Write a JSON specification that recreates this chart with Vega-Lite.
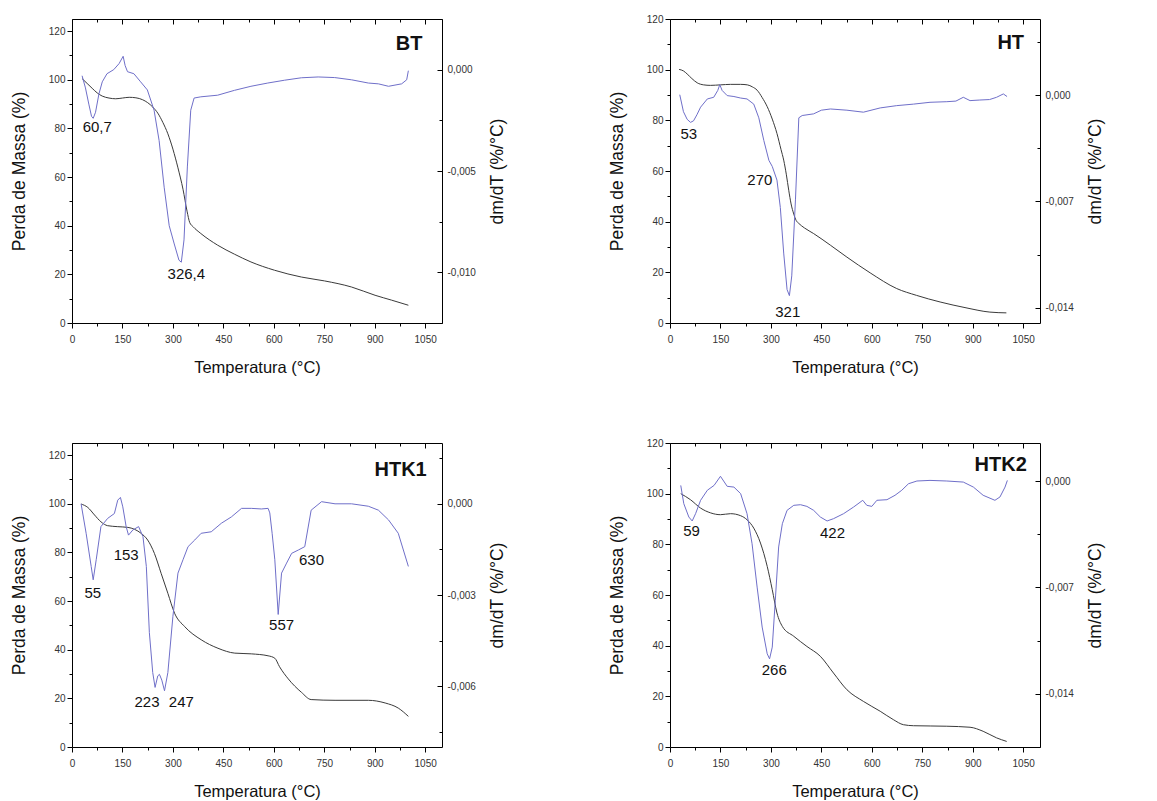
{
  "$schema": "https://vega.github.io/schema/vega-lite/v6.json",
  "padding": {"left": 10, "top": 14, "right": 5, "bottom": 5},
  "background": "white",
  "config": {
    "font": "Liberation Sans",
    "view": {"stroke": null},
    "axis": {
      "domainColor": "#000", "tickColor": "#000", "grid": false,
      "labelFont": "Liberation Sans", "labelFontSize": 10, "labelColor": "#333",
      "labelFlush": false, "labelOverlap": false,
      "titleFont": "Liberation Sans", "titleFontWeight": "normal", "titleColor": "#111"
    },
    "text": {"font": "Liberation Sans"}
  },
  "datasets": {
    "massa": [
      {"a":"BT","T":30,"M":100.5},{"a":"BT","T":45,"M":98.5},{"a":"BT","T":60,"M":96.5},{"a":"BT","T":75,"M":94.6},{"a":"BT","T":90,"M":93.3},{"a":"BT","T":110,"M":92.5},{"a":"BT","T":130,"M":92.2},{"a":"BT","T":150,"M":92.5},{"a":"BT","T":170,"M":92.8},{"a":"BT","T":190,"M":92.6},{"a":"BT","T":210,"M":91.8},{"a":"BT","T":225,"M":90.6},{"a":"BT","T":240,"M":88.8},{"a":"BT","T":255,"M":86.3},{"a":"BT","T":270,"M":82.5},{"a":"BT","T":285,"M":77.8},{"a":"BT","T":300,"M":71.5},{"a":"BT","T":315,"M":63.8},{"a":"BT","T":330,"M":55},{"a":"BT","T":342,"M":46},{"a":"BT","T":350,"M":41.3},{"a":"BT","T":360,"M":39.6},{"a":"BT","T":383,"M":36.8},{"a":"BT","T":433,"M":32},{"a":"BT","T":483,"M":28.3},{"a":"BT","T":532,"M":25.1},{"a":"BT","T":602,"M":21.7},{"a":"BT","T":682,"M":18.9},{"a":"BT","T":751,"M":17.3},{"a":"BT","T":831,"M":14.8},{"a":"BT","T":901,"M":11.4},{"a":"BT","T":950,"M":9.4},{"a":"BT","T":1000,"M":7.3},
      {"a":"HT","T":27,"M":100.1},{"a":"HT","T":40,"M":99.5},{"a":"HT","T":51,"M":98.3},{"a":"HT","T":65,"M":96.5},{"a":"HT","T":81,"M":94.8},{"a":"HT","T":100,"M":94},{"a":"HT","T":120,"M":93.8},{"a":"HT","T":150,"M":94},{"a":"HT","T":180,"M":94.2},{"a":"HT","T":210,"M":94.2},{"a":"HT","T":230,"M":94},{"a":"HT","T":245,"M":93.2},{"a":"HT","T":259,"M":91.9},{"a":"HT","T":274,"M":89},{"a":"HT","T":289,"M":85.4},{"a":"HT","T":304,"M":80.5},{"a":"HT","T":318,"M":74.8},{"a":"HT","T":330,"M":68.5},{"a":"HT","T":338,"M":64.3},{"a":"HT","T":346,"M":58.5},{"a":"HT","T":353,"M":52.4},{"a":"HT","T":360,"M":47},{"a":"HT","T":368,"M":43},{"a":"HT","T":375,"M":40.5},{"a":"HT","T":383,"M":39.3},{"a":"HT","T":400,"M":37.5},{"a":"HT","T":427,"M":35.3},{"a":"HT","T":477,"M":30.7},{"a":"HT","T":526,"M":26},{"a":"HT","T":595,"M":19.8},{"a":"HT","T":674,"M":13.6},{"a":"HT","T":733,"M":10.9},{"a":"HT","T":803,"M":8.3},{"a":"HT","T":880,"M":6},{"a":"HT","T":951,"M":4.3},{"a":"HT","T":1000,"M":4},
      {"a":"HTK1","T":27,"M":99.9},{"a":"HTK1","T":47,"M":98.5},{"a":"HTK1","T":67,"M":95.4},{"a":"HTK1","T":86,"M":92.6},{"a":"HTK1","T":106,"M":91},{"a":"HTK1","T":136,"M":90.6},{"a":"HTK1","T":166,"M":90.3},{"a":"HTK1","T":186,"M":89.5},{"a":"HTK1","T":206,"M":87.8},{"a":"HTK1","T":225,"M":85.1},{"a":"HTK1","T":245,"M":79.6},{"a":"HTK1","T":265,"M":71.4},{"a":"HTK1","T":285,"M":63.2},{"a":"HTK1","T":305,"M":55},{"a":"HTK1","T":335,"M":49.5},{"a":"HTK1","T":384,"M":44.1},{"a":"HTK1","T":434,"M":40.6},{"a":"HTK1","T":484,"M":38.6},{"a":"HTK1","T":533,"M":38.3},{"a":"HTK1","T":583,"M":37.5},{"a":"HTK1","T":603,"M":36.5},{"a":"HTK1","T":617,"M":33},{"a":"HTK1","T":643,"M":28},{"a":"HTK1","T":682,"M":22.5},{"a":"HTK1","T":711,"M":19.5},{"a":"HTK1","T":782,"M":19.2},{"a":"HTK1","T":881,"M":19.2},{"a":"HTK1","T":931,"M":18.1},{"a":"HTK1","T":970,"M":16},{"a":"HTK1","T":1000,"M":12.6},
      {"a":"HTK2","T":32,"M":100},{"a":"HTK2","T":61,"M":97.6},{"a":"HTK2","T":91,"M":94.3},{"a":"HTK2","T":121,"M":92.4},{"a":"HTK2","T":150,"M":91.7},{"a":"HTK2","T":180,"M":92.1},{"a":"HTK2","T":210,"M":91.3},{"a":"HTK2","T":229,"M":89.7},{"a":"HTK2","T":249,"M":86.4},{"a":"HTK2","T":269,"M":80.5},{"a":"HTK2","T":289,"M":71.3},{"a":"HTK2","T":304,"M":62.1},{"a":"HTK2","T":318,"M":52.9},{"a":"HTK2","T":334,"M":47.6},{"a":"HTK2","T":368,"M":43.7},{"a":"HTK2","T":407,"M":39.7},{"a":"HTK2","T":447,"M":35.8},{"a":"HTK2","T":486,"M":29.2},{"a":"HTK2","T":526,"M":22.6},{"a":"HTK2","T":575,"M":18},{"a":"HTK2","T":625,"M":14.1},{"a":"HTK2","T":664,"M":10.8},{"a":"HTK2","T":694,"M":8.8},{"a":"HTK2","T":724,"M":8.4},{"a":"HTK2","T":823,"M":8.2},{"a":"HTK2","T":892,"M":7.8},{"a":"HTK2","T":931,"M":6.2},{"a":"HTK2","T":971,"M":3.6},{"a":"HTK2","T":1001,"M":2.2}
    ],
    "dtg": [
      {"a":"BT","T":30,"v":-0.0003},{"a":"BT","T":40,"v":-0.0009},{"a":"BT","T":50,"v":-0.0017},{"a":"BT","T":58,"v":-0.0023},{"a":"BT","T":63,"v":-0.0024},{"a":"BT","T":70,"v":-0.0021},{"a":"BT","T":80,"v":-0.0012},{"a":"BT","T":90,"v":-0.0006},{"a":"BT","T":104,"v":-0.0002},{"a":"BT","T":124,"v":0.0},{"a":"BT","T":140,"v":0.0003},{"a":"BT","T":152,"v":0.00066},{"a":"BT","T":158,"v":0.0002},{"a":"BT","T":165,"v":-0.0001},{"a":"BT","T":184,"v":-0.0002},{"a":"BT","T":204,"v":-0.0006},{"a":"BT","T":224,"v":-0.001},{"a":"BT","T":244,"v":-0.002},{"a":"BT","T":259,"v":-0.0035},{"a":"BT","T":274,"v":-0.0058},{"a":"BT","T":289,"v":-0.0077},{"a":"BT","T":304,"v":-0.0086},{"a":"BT","T":318,"v":-0.0094},{"a":"BT","T":325,"v":-0.0095},{"a":"BT","T":333,"v":-0.0084},{"a":"BT","T":343,"v":-0.0048},{"a":"BT","T":353,"v":-0.002},{"a":"BT","T":363,"v":-0.0014},{"a":"BT","T":383,"v":-0.00134},{"a":"BT","T":433,"v":-0.00126},{"a":"BT","T":483,"v":-0.00102},{"a":"BT","T":532,"v":-0.00082},{"a":"BT","T":582,"v":-0.00066},{"a":"BT","T":632,"v":-0.00052},{"a":"BT","T":682,"v":-0.0004},{"a":"BT","T":732,"v":-0.00036},{"a":"BT","T":781,"v":-0.00039},{"a":"BT","T":831,"v":-0.0005},{"a":"BT","T":881,"v":-0.00066},{"a":"BT","T":911,"v":-0.0007},{"a":"BT","T":941,"v":-0.00082},{"a":"BT","T":980,"v":-0.0007},{"a":"BT","T":995,"v":-0.0005},{"a":"BT","T":1000,"v":-0.00005},
      {"a":"HT","T":29,"v":0.00002},{"a":"HT","T":40,"v":-0.0011},{"a":"HT","T":51,"v":-0.0016},{"a":"HT","T":61,"v":-0.0018},{"a":"HT","T":70,"v":-0.0017},{"a":"HT","T":80,"v":-0.0013},{"a":"HT","T":91,"v":-0.0008},{"a":"HT","T":111,"v":-0.00026},{"a":"HT","T":130,"v":-0.00015},{"a":"HT","T":142,"v":0.0003},{"a":"HT","T":148,"v":0.00068},{"a":"HT","T":155,"v":0.0003},{"a":"HT","T":170,"v":-0.00004},{"a":"HT","T":190,"v":-0.0001},{"a":"HT","T":210,"v":-0.0002},{"a":"HT","T":229,"v":-0.00026},{"a":"HT","T":249,"v":-0.0006},{"a":"HT","T":264,"v":-0.0015},{"a":"HT","T":279,"v":-0.003},{"a":"HT","T":294,"v":-0.0043},{"a":"HT","T":304,"v":-0.0047},{"a":"HT","T":318,"v":-0.0056},{"a":"HT","T":328,"v":-0.0074},{"a":"HT","T":338,"v":-0.0104},{"a":"HT","T":348,"v":-0.0128},{"a":"HT","T":355,"v":-0.0132},{"a":"HT","T":362,"v":-0.0119},{"a":"HT","T":373,"v":-0.0069},{"a":"HT","T":383,"v":-0.0015},{"a":"HT","T":393,"v":-0.00135},{"a":"HT","T":427,"v":-0.00124},{"a":"HT","T":450,"v":-0.001},{"a":"HT","T":477,"v":-0.00092},{"a":"HT","T":526,"v":-0.001},{"a":"HT","T":575,"v":-0.00113},{"a":"HT","T":625,"v":-0.00085},{"a":"HT","T":674,"v":-0.0007},{"a":"HT","T":724,"v":-0.0006},{"a":"HT","T":773,"v":-0.00048},{"a":"HT","T":823,"v":-0.00044},{"a":"HT","T":850,"v":-0.0004},{"a":"HT","T":872,"v":-0.00015},{"a":"HT","T":892,"v":-0.00037},{"a":"HT","T":921,"v":-0.00033},{"a":"HT","T":950,"v":-0.0003},{"a":"HT","T":971,"v":-0.00015},{"a":"HT","T":991,"v":0.00007},{"a":"HT","T":1002,"v":-0.0001},
      {"a":"HTK1","T":27,"v":0.0},{"a":"HTK1","T":42,"v":-0.00097},{"a":"HTK1","T":57,"v":-0.00206},{"a":"HTK1","T":63,"v":-0.0025},{"a":"HTK1","T":72,"v":-0.00184},{"a":"HTK1","T":86,"v":-0.00075},{"a":"HTK1","T":106,"v":-0.00048},{"a":"HTK1","T":126,"v":-0.00032},{"a":"HTK1","T":136,"v":0.00012},{"a":"HTK1","T":144,"v":0.00021},{"a":"HTK1","T":151,"v":-0.0001},{"a":"HTK1","T":161,"v":-0.00075},{"a":"HTK1","T":168,"v":-0.00103},{"a":"HTK1","T":181,"v":-0.00086},{"a":"HTK1","T":198,"v":-0.00075},{"a":"HTK1","T":211,"v":-0.00108},{"a":"HTK1","T":221,"v":-0.00206},{"a":"HTK1","T":230,"v":-0.00424},{"a":"HTK1","T":240,"v":-0.00555},{"a":"HTK1","T":247,"v":-0.00604},{"a":"HTK1","T":255,"v":-0.00566},{"a":"HTK1","T":260,"v":-0.00561},{"a":"HTK1","T":267,"v":-0.0058},{"a":"HTK1","T":275,"v":-0.00615},{"a":"HTK1","T":285,"v":-0.00555},{"a":"HTK1","T":300,"v":-0.0037},{"a":"HTK1","T":315,"v":-0.00228},{"a":"HTK1","T":330,"v":-0.00184},{"a":"HTK1","T":345,"v":-0.00141},{"a":"HTK1","T":365,"v":-0.00119},{"a":"HTK1","T":384,"v":-0.00097},{"a":"HTK1","T":414,"v":-0.00092},{"a":"HTK1","T":444,"v":-0.00064},{"a":"HTK1","T":474,"v":-0.00043},{"a":"HTK1","T":504,"v":-0.00015},{"a":"HTK1","T":533,"v":-0.00015},{"a":"HTK1","T":563,"v":-0.00017},{"a":"HTK1","T":583,"v":-0.00015},{"a":"HTK1","T":588,"v":-0.0003},{"a":"HTK1","T":595,"v":-0.00097},{"a":"HTK1","T":603,"v":-0.00184},{"a":"HTK1","T":613,"v":-0.00364},{"a":"HTK1","T":623,"v":-0.00228},{"a":"HTK1","T":638,"v":-0.00195},{"a":"HTK1","T":653,"v":-0.00163},{"a":"HTK1","T":673,"v":-0.00152},{"a":"HTK1","T":692,"v":-0.00141},{"a":"HTK1","T":711,"v":-0.00021},{"a":"HTK1","T":742,"v":0.00007},{"a":"HTK1","T":782,"v":0.0},{"a":"HTK1","T":831,"v":0.0},{"a":"HTK1","T":881,"v":-0.00008},{"a":"HTK1","T":911,"v":-0.00021},{"a":"HTK1","T":941,"v":-0.00053},{"a":"HTK1","T":970,"v":-0.00097},{"a":"HTK1","T":1000,"v":-0.00206},
      {"a":"HTK2","T":32,"v":-0.00029},{"a":"HTK2","T":41,"v":-0.00149},{"a":"HTK2","T":56,"v":-0.00237},{"a":"HTK2","T":66,"v":-0.00263},{"a":"HTK2","T":76,"v":-0.00215},{"a":"HTK2","T":91,"v":-0.00127},{"a":"HTK2","T":111,"v":-0.00061},{"a":"HTK2","T":131,"v":-0.00029},{"a":"HTK2","T":150,"v":0.00031},{"a":"HTK2","T":170,"v":-0.00035},{"a":"HTK2","T":190,"v":-0.0004},{"a":"HTK2","T":210,"v":-0.00083},{"a":"HTK2","T":229,"v":-0.00215},{"a":"HTK2","T":244,"v":-0.00413},{"a":"HTK2","T":259,"v":-0.00698},{"a":"HTK2","T":274,"v":-0.00961},{"a":"HTK2","T":289,"v":-0.01137},{"a":"HTK2","T":296,"v":-0.0117},{"a":"HTK2","T":304,"v":-0.01093},{"a":"HTK2","T":313,"v":-0.00786},{"a":"HTK2","T":323,"v":-0.00434},{"a":"HTK2","T":334,"v":-0.00281},{"a":"HTK2","T":348,"v":-0.00193},{"a":"HTK2","T":368,"v":-0.0016},{"a":"HTK2","T":388,"v":-0.00156},{"a":"HTK2","T":407,"v":-0.00167},{"a":"HTK2","T":427,"v":-0.00193},{"a":"HTK2","T":447,"v":-0.00237},{"a":"HTK2","T":467,"v":-0.00263},{"a":"HTK2","T":486,"v":-0.00248},{"a":"HTK2","T":516,"v":-0.00215},{"a":"HTK2","T":546,"v":-0.00171},{"a":"HTK2","T":573,"v":-0.00127},{"a":"HTK2","T":585,"v":-0.0016},{"a":"HTK2","T":600,"v":-0.00167},{"a":"HTK2","T":615,"v":-0.00127},{"a":"HTK2","T":645,"v":-0.00123},{"a":"HTK2","T":669,"v":-0.00094},{"a":"HTK2","T":689,"v":-0.00061},{"a":"HTK2","T":709,"v":-0.00018},{"a":"HTK2","T":734,"v":0.0},{"a":"HTK2","T":773,"v":0.00004},{"a":"HTK2","T":823,"v":0.0},{"a":"HTK2","T":872,"v":-0.00007},{"a":"HTK2","T":902,"v":-0.0004},{"a":"HTK2","T":931,"v":-0.00094},{"a":"HTK2","T":966,"v":-0.00127},{"a":"HTK2","T":981,"v":-0.00105},{"a":"HTK2","T":996,"v":-0.0004},{"a":"HTK2","T":1003,"v":0.00004}
    ],
    "rotulos": [
      {"a":"BT","T":75,"M":80.6,"txt":"60,7"},{"a":"BT","T":340,"M":20,"txt":"326,4"},
      {"a":"HT","T":56,"M":74.8,"txt":"53"},{"a":"HT","T":267,"M":56.4,"txt":"270"},{"a":"HT","T":350,"M":4.3,"txt":"321"},
      {"a":"HTK1","T":62,"M":63.2,"txt":"55"},{"a":"HTK1","T":161,"M":79,"txt":"153"},{"a":"HTK1","T":223,"M":18.7,"txt":"223"},{"a":"HTK1","T":325,"M":18.7,"txt":"247"},{"a":"HTK1","T":623,"M":50.2,"txt":"557"},{"a":"HTK1","T":712,"M":76.9,"txt":"630"},
      {"a":"HTK2","T":64,"M":85.1,"txt":"59"},{"a":"HTK2","T":483,"M":84.5,"txt":"422"},{"a":"HTK2","T":310,"M":30.5,"txt":"266"}
    ],
    "paineis": [
      {"a":"BT","T":1002,"M":114.6,"nome":"BT"},
      {"a":"HT","T":1013,"M":110.6,"nome":"HT"},
      {"a":"HTK1","T":977,"M":113.8,"nome":"HTK1"},
      {"a":"HTK2","T":983,"M":111.2,"nome":"HTK2"}
    ]
  },
  "columns": 2,
  "spacing": {"row": 120, "column": 228},
  "bounds": "flush",
  "concat": [
    {
      "width": 370, "height": 304,
      "resolve": {"scale": {"y": "independent"}, "axis": {"x": "independent", "y": "independent"}},
      "layer": [
        {"data": {"name": "massa"}, "transform": [{"filter": "datum.a === 'BT'"}],
         "mark": {"type": "line", "color": "#3a3a3a", "strokeWidth": 1, "interpolate": "monotone"},
         "encoding": {
           "x": {"field": "T", "type": "quantitative", "scale": {"domain": [0, 1100], "nice": false, "zero": false},
                 "axis": {"orient": "bottom", "values": [0,75,150,225,300,375,450,525,600,675,750,825,900,975,1050], "format": "d",
                          "labelExpr": "datum.value % 150 === 0 ? datum.label : ''",
                          "tickSize": {"condition": {"test": "datum.value % 150 === 0", "value": 5}, "value": 3},
                          "labelPadding": 6, "title": "Temperatura (°C)", "titleFontSize": 16.5,
                          "titleX": 185, "titleY": 44, "titleBaseline": "middle", "titleAlign": "center"}},
           "y": {"field": "M", "type": "quantitative", "scale": {"domain": [0, 125], "nice": false, "zero": false},
                 "axis": {"orient": "left", "values": [0,10,20,30,40,50,60,70,80,90,100,110,120],
                          "labelExpr": "datum.value % 20 === 0 ? datum.label : ''",
                          "tickSize": {"condition": {"test": "datum.value % 20 === 0", "value": 5}, "value": 3},
                          "labelPadding": 2, "title": "Perda de Massa (%)", "titleFontSize": 17.5,
                          "titleX": -53, "titleY": 152, "titleBaseline": "middle", "titleAlign": "center", "titleAngle": 270}}
         }},
        {"data": {"name": "dtg"}, "transform": [{"filter": "datum.a === 'BT'"}],
         "mark": {"type": "line", "color": "#6f6fc9", "strokeWidth": 1},
         "encoding": {
           "x": {"field": "T", "type": "quantitative", "scale": {"domain": [0, 1100], "nice": false, "zero": false},
                 "axis": {"orient": "top", "values": [0,75,150,225,300,375,450,525,600,675,750,825,900,975,1050], "labels": false, "title": null,
                          "tickSize": {"condition": {"test": "datum.value % 150 === 0", "value": -5}, "value": -3}}},
           "y": {"field": "v", "type": "quantitative", "scale": {"domain": [-0.0125, 0.0025], "nice": false, "zero": false},
                 "axis": {"orient": "right", "values": [0.0025, 0, -0.0025, -0.005, -0.0075, -0.01, -0.0125],
                          "labelExpr": "round(datum.value*10000) % 50 === 0 ? (datum.value < 0 ? '-' : '') + replace(format(abs(datum.value), '.3f'), '.', ',') : ''",
                          "tickSize": {"condition": {"test": "round(datum.value*10000) % 50 === 0", "value": -5}, "value": -3},
                          "labelPadding": 10, "title": "dm/dT (%/°C)", "titleFontSize": 17.5,
                          "titleX": 55, "titleY": 152, "titleBaseline": "middle", "titleAlign": "center", "titleAngle": 270}}
         }},
        {"data": {"name": "rotulos"}, "transform": [{"filter": "datum.a === 'BT'"}],
         "mark": {"type": "text", "fontSize": 15, "color": "#111", "align": "center", "baseline": "middle"},
         "encoding": {
           "x": {"field": "T", "type": "quantitative", "scale": {"domain": [0, 1100], "nice": false, "zero": false}, "axis": null},
           "y": {"field": "M", "type": "quantitative", "scale": {"domain": [0, 125], "nice": false, "zero": false}, "axis": null},
           "text": {"field": "txt"}
         }},
        {"data": {"name": "paineis"}, "transform": [{"filter": "datum.a === 'BT'"}],
         "mark": {"type": "text", "fontSize": 20, "fontWeight": "bold", "color": "#111", "align": "center", "baseline": "middle"},
         "encoding": {
           "x": {"field": "T", "type": "quantitative", "scale": {"domain": [0, 1100], "nice": false, "zero": false}, "axis": null},
           "y": {"field": "M", "type": "quantitative", "scale": {"domain": [0, 125], "nice": false, "zero": false}, "axis": null},
           "text": {"field": "nome"}
         }}
      ]
    },
    {
      "width": 370, "height": 304,
      "resolve": {"scale": {"y": "independent"}, "axis": {"x": "independent", "y": "independent"}},
      "layer": [
        {"data": {"name": "massa"}, "transform": [{"filter": "datum.a === 'HT'"}],
         "mark": {"type": "line", "color": "#3a3a3a", "strokeWidth": 1, "interpolate": "monotone"},
         "encoding": {
           "x": {"field": "T", "type": "quantitative", "scale": {"domain": [0, 1100], "nice": false, "zero": false},
                 "axis": {"orient": "bottom", "values": [0,75,150,225,300,375,450,525,600,675,750,825,900,975,1050], "format": "d",
                          "labelExpr": "datum.value % 150 === 0 ? datum.label : ''",
                          "tickSize": {"condition": {"test": "datum.value % 150 === 0", "value": 5}, "value": 3},
                          "labelPadding": 6, "title": "Temperatura (°C)", "titleFontSize": 16.5,
                          "titleX": 185, "titleY": 44, "titleBaseline": "middle", "titleAlign": "center"}},
           "y": {"field": "M", "type": "quantitative", "scale": {"domain": [0, 120], "nice": false, "zero": false},
                 "axis": {"orient": "left", "values": [0,10,20,30,40,50,60,70,80,90,100,110,120],
                          "labelExpr": "datum.value % 20 === 0 ? datum.label : ''",
                          "tickSize": {"condition": {"test": "datum.value % 20 === 0", "value": 5}, "value": 3},
                          "labelPadding": 2, "title": "Perda de Massa (%)", "titleFontSize": 17.5,
                          "titleX": -53, "titleY": 152, "titleBaseline": "middle", "titleAlign": "center", "titleAngle": 270}}
         }},
        {"data": {"name": "dtg"}, "transform": [{"filter": "datum.a === 'HT'"}],
         "mark": {"type": "line", "color": "#6f6fc9", "strokeWidth": 1},
         "encoding": {
           "x": {"field": "T", "type": "quantitative", "scale": {"domain": [0, 1100], "nice": false, "zero": false},
                 "axis": {"orient": "top", "values": [0,75,150,225,300,375,450,525,600,675,750,825,900,975,1050], "labels": false, "title": null,
                          "tickSize": {"condition": {"test": "datum.value % 150 === 0", "value": -5}, "value": -3}}},
           "y": {"field": "v", "type": "quantitative", "scale": {"domain": [-0.015, 0.005], "nice": false, "zero": false},
                 "axis": {"orient": "right", "values": [0.0035, 0, -0.0035, -0.007, -0.0105, -0.014],
                          "labelExpr": "round(datum.value*10000) % 70 === 0 ? (datum.value < 0 ? '-' : '') + replace(format(abs(datum.value), '.3f'), '.', ',') : ''",
                          "tickSize": {"condition": {"test": "round(datum.value*10000) % 70 === 0", "value": -5}, "value": -3},
                          "labelPadding": 10, "title": "dm/dT (%/°C)", "titleFontSize": 17.5,
                          "titleX": 55, "titleY": 152, "titleBaseline": "middle", "titleAlign": "center", "titleAngle": 270}}
         }},
        {"data": {"name": "rotulos"}, "transform": [{"filter": "datum.a === 'HT'"}],
         "mark": {"type": "text", "fontSize": 15, "color": "#111", "align": "center", "baseline": "middle"},
         "encoding": {
           "x": {"field": "T", "type": "quantitative", "scale": {"domain": [0, 1100], "nice": false, "zero": false}, "axis": null},
           "y": {"field": "M", "type": "quantitative", "scale": {"domain": [0, 120], "nice": false, "zero": false}, "axis": null},
           "text": {"field": "txt"}
         }},
        {"data": {"name": "paineis"}, "transform": [{"filter": "datum.a === 'HT'"}],
         "mark": {"type": "text", "fontSize": 20, "fontWeight": "bold", "color": "#111", "align": "center", "baseline": "middle"},
         "encoding": {
           "x": {"field": "T", "type": "quantitative", "scale": {"domain": [0, 1100], "nice": false, "zero": false}, "axis": null},
           "y": {"field": "M", "type": "quantitative", "scale": {"domain": [0, 120], "nice": false, "zero": false}, "axis": null},
           "text": {"field": "nome"}
         }}
      ]
    },
    {
      "width": 370, "height": 304,
      "resolve": {"scale": {"y": "independent"}, "axis": {"x": "independent", "y": "independent"}},
      "layer": [
        {"data": {"name": "massa"}, "transform": [{"filter": "datum.a === 'HTK1'"}],
         "mark": {"type": "line", "color": "#3a3a3a", "strokeWidth": 1, "interpolate": "monotone"},
         "encoding": {
           "x": {"field": "T", "type": "quantitative", "scale": {"domain": [0, 1100], "nice": false, "zero": false},
                 "axis": {"orient": "bottom", "values": [0,75,150,225,300,375,450,525,600,675,750,825,900,975,1050], "format": "d",
                          "labelExpr": "datum.value % 150 === 0 ? datum.label : ''",
                          "tickSize": {"condition": {"test": "datum.value % 150 === 0", "value": 5}, "value": 3},
                          "labelPadding": 6, "title": "Temperatura (°C)", "titleFontSize": 16.5,
                          "titleX": 185, "titleY": 44, "titleBaseline": "middle", "titleAlign": "center"}},
           "y": {"field": "M", "type": "quantitative", "scale": {"domain": [0, 125], "nice": false, "zero": false},
                 "axis": {"orient": "left", "values": [0,10,20,30,40,50,60,70,80,90,100,110,120],
                          "labelExpr": "datum.value % 20 === 0 ? datum.label : ''",
                          "tickSize": {"condition": {"test": "datum.value % 20 === 0", "value": 5}, "value": 3},
                          "labelPadding": 2, "title": "Perda de Massa (%)", "titleFontSize": 17.5,
                          "titleX": -53, "titleY": 152, "titleBaseline": "middle", "titleAlign": "center", "titleAngle": 270}}
         }},
        {"data": {"name": "dtg"}, "transform": [{"filter": "datum.a === 'HTK1'"}],
         "mark": {"type": "line", "color": "#6f6fc9", "strokeWidth": 1},
         "encoding": {
           "x": {"field": "T", "type": "quantitative", "scale": {"domain": [0, 1100], "nice": false, "zero": false},
                 "axis": {"orient": "top", "values": [0,75,150,225,300,375,450,525,600,675,750,825,900,975,1050], "labels": false, "title": null,
                          "tickSize": {"condition": {"test": "datum.value % 150 === 0", "value": -5}, "value": -3}}},
           "y": {"field": "v", "type": "quantitative", "scale": {"domain": [-0.008, 0.002], "nice": false, "zero": false},
                 "axis": {"orient": "right", "values": [0.0015, 0, -0.0015, -0.003, -0.0045, -0.006, -0.0075],
                          "labelExpr": "round(datum.value*10000) % 30 === 0 ? (datum.value < 0 ? '-' : '') + replace(format(abs(datum.value), '.3f'), '.', ',') : ''",
                          "tickSize": {"condition": {"test": "round(datum.value*10000) % 30 === 0", "value": -5}, "value": -3},
                          "labelPadding": 10, "title": "dm/dT (%/°C)", "titleFontSize": 17.5,
                          "titleX": 55, "titleY": 152, "titleBaseline": "middle", "titleAlign": "center", "titleAngle": 270}}
         }},
        {"data": {"name": "rotulos"}, "transform": [{"filter": "datum.a === 'HTK1'"}],
         "mark": {"type": "text", "fontSize": 15, "color": "#111", "align": "center", "baseline": "middle"},
         "encoding": {
           "x": {"field": "T", "type": "quantitative", "scale": {"domain": [0, 1100], "nice": false, "zero": false}, "axis": null},
           "y": {"field": "M", "type": "quantitative", "scale": {"domain": [0, 125], "nice": false, "zero": false}, "axis": null},
           "text": {"field": "txt"}
         }},
        {"data": {"name": "paineis"}, "transform": [{"filter": "datum.a === 'HTK1'"}],
         "mark": {"type": "text", "fontSize": 20, "fontWeight": "bold", "color": "#111", "align": "center", "baseline": "middle"},
         "encoding": {
           "x": {"field": "T", "type": "quantitative", "scale": {"domain": [0, 1100], "nice": false, "zero": false}, "axis": null},
           "y": {"field": "M", "type": "quantitative", "scale": {"domain": [0, 125], "nice": false, "zero": false}, "axis": null},
           "text": {"field": "nome"}
         }}
      ]
    },
    {
      "width": 370, "height": 304,
      "resolve": {"scale": {"y": "independent"}, "axis": {"x": "independent", "y": "independent"}},
      "layer": [
        {"data": {"name": "massa"}, "transform": [{"filter": "datum.a === 'HTK2'"}],
         "mark": {"type": "line", "color": "#3a3a3a", "strokeWidth": 1, "interpolate": "monotone"},
         "encoding": {
           "x": {"field": "T", "type": "quantitative", "scale": {"domain": [0, 1100], "nice": false, "zero": false},
                 "axis": {"orient": "bottom", "values": [0,75,150,225,300,375,450,525,600,675,750,825,900,975,1050], "format": "d",
                          "labelExpr": "datum.value % 150 === 0 ? datum.label : ''",
                          "tickSize": {"condition": {"test": "datum.value % 150 === 0", "value": 5}, "value": 3},
                          "labelPadding": 6, "title": "Temperatura (°C)", "titleFontSize": 16.5,
                          "titleX": 185, "titleY": 44, "titleBaseline": "middle", "titleAlign": "center"}},
           "y": {"field": "M", "type": "quantitative", "scale": {"domain": [0, 120], "nice": false, "zero": false},
                 "axis": {"orient": "left", "values": [0,10,20,30,40,50,60,70,80,90,100,110,120],
                          "labelExpr": "datum.value % 20 === 0 ? datum.label : ''",
                          "tickSize": {"condition": {"test": "datum.value % 20 === 0", "value": 5}, "value": 3},
                          "labelPadding": 2, "title": "Perda de Massa (%)", "titleFontSize": 17.5,
                          "titleX": -53, "titleY": 152, "titleBaseline": "middle", "titleAlign": "center", "titleAngle": 270}}
         }},
        {"data": {"name": "dtg"}, "transform": [{"filter": "datum.a === 'HTK2'"}],
         "mark": {"type": "line", "color": "#6f6fc9", "strokeWidth": 1},
         "encoding": {
           "x": {"field": "T", "type": "quantitative", "scale": {"domain": [0, 1100], "nice": false, "zero": false},
                 "axis": {"orient": "top", "values": [0,75,150,225,300,375,450,525,600,675,750,825,900,975,1050], "labels": false, "title": null,
                          "tickSize": {"condition": {"test": "datum.value % 150 === 0", "value": -5}, "value": -3}}},
           "y": {"field": "v", "type": "quantitative", "scale": {"domain": [-0.0175, 0.0025], "nice": false, "zero": false},
                 "axis": {"orient": "right", "values": [0, -0.0035, -0.007, -0.0105, -0.014, -0.0175],
                          "labelExpr": "round(datum.value*10000) % 70 === 0 ? (datum.value < 0 ? '-' : '') + replace(format(abs(datum.value), '.3f'), '.', ',') : ''",
                          "tickSize": {"condition": {"test": "round(datum.value*10000) % 70 === 0", "value": -5}, "value": -3},
                          "labelPadding": 10, "title": "dm/dT (%/°C)", "titleFontSize": 17.5,
                          "titleX": 55, "titleY": 152, "titleBaseline": "middle", "titleAlign": "center", "titleAngle": 270}}
         }},
        {"data": {"name": "rotulos"}, "transform": [{"filter": "datum.a === 'HTK2'"}],
         "mark": {"type": "text", "fontSize": 15, "color": "#111", "align": "center", "baseline": "middle"},
         "encoding": {
           "x": {"field": "T", "type": "quantitative", "scale": {"domain": [0, 1100], "nice": false, "zero": false}, "axis": null},
           "y": {"field": "M", "type": "quantitative", "scale": {"domain": [0, 120], "nice": false, "zero": false}, "axis": null},
           "text": {"field": "txt"}
         }},
        {"data": {"name": "paineis"}, "transform": [{"filter": "datum.a === 'HTK2'"}],
         "mark": {"type": "text", "fontSize": 20, "fontWeight": "bold", "color": "#111", "align": "center", "baseline": "middle"},
         "encoding": {
           "x": {"field": "T", "type": "quantitative", "scale": {"domain": [0, 1100], "nice": false, "zero": false}, "axis": null},
           "y": {"field": "M", "type": "quantitative", "scale": {"domain": [0, 120], "nice": false, "zero": false}, "axis": null},
           "text": {"field": "nome"}
         }}
      ]
    }
  ]
}
